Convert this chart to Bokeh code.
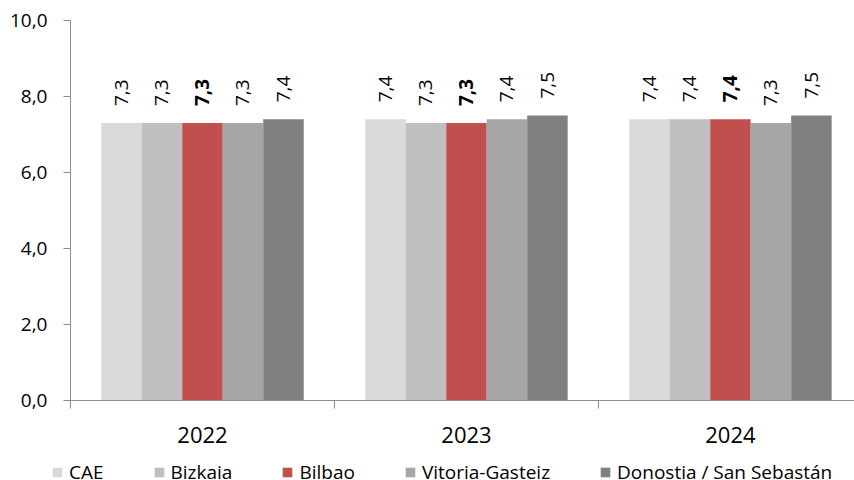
import math
from bokeh.plotting import figure
from bokeh.layouts import column
from bokeh.models import ColumnDataSource, FixedTicker, Legend, LegendItem, Range1d
from bokeh.core.properties import value
from bokeh.embed import file_html
from bokeh.resources import INLINE

# ---- data ----
years = ["2022", "2023", "2024"]
series = ["CAE", "Bizkaia", "Bilbao", "Vitoria-Gasteiz", "Donostia / San Sebastán"]
cae = [7.3, 7.4, 7.4]
bizkaia = [7.3, 7.3, 7.4]
bilbao = [7.3, 7.3, 7.4]
vitoria = [7.3, 7.4, 7.3]
donostia = [7.4, 7.5, 7.5]
values_by_series = [cae, bizkaia, bilbao, vitoria, donostia]
colors = ["#D9D9D9", "#BFBFBF", "#C0504D", "#A6A6A6", "#808080"]
bold_series = ["Bilbao"]
y_ticks = [0, 2, 4, 6, 8, 10]
y_tick_labels = ["0,0", "2,0", "4,0", "6,0", "8,0", "10,0"]

FONT = "Open Sans"
BW = 0.1534  # bar width in category units

p = figure(frame_width=784, frame_height=380, output_backend="svg", toolbar_location=None,
           x_range=Range1d(0, 2.97), y_range=Range1d(0, 10),
           min_border_left=70, min_border_right=0, min_border_top=20, min_border_bottom=52)
p.outline_line_color = None
p.xgrid.visible = False
p.ygrid.visible = False
p.background_fill_color = "white"

sources = []
for k, (name, vals, col) in enumerate(zip(series, values_by_series, colors)):
    xs = [i + 0.5 + (k - 2) * BW for i in range(len(years))]
    src = ColumnDataSource(dict(x=xs, top=vals,
                                lab=[("%.1f" % v).replace(".", ",") for v in vals]))
    sources.append(src)
    p.vbar(x="x", top="top", width=BW, bottom=0, source=src,
           fill_color=col, line_color=None)
    p.text(x="x", y="top", text="lab", source=src, angle=math.pi / 2,
           text_align="left", text_baseline="middle", y_offset=-17,
           text_font=value(FONT), text_font_size="19px", text_color="black",
           text_font_style="bold" if name in bold_series else "normal")

AX = "#8C8C8C"
# y axis
p.yaxis.ticker = FixedTicker(ticks=y_ticks)
p.yaxis.major_label_overrides = {t: l for t, l in zip(y_ticks, y_tick_labels)}
p.yaxis.major_tick_out = 7
p.yaxis.major_tick_in = 0
p.yaxis.minor_tick_line_color = None
p.yaxis.axis_line_color = AX
p.yaxis.major_tick_line_color = AX
p.yaxis.major_label_text_font = FONT
p.yaxis.major_label_text_font_size = "19px"
p.yaxis.major_label_text_color = "black"
p.yaxis.major_label_standoff = 16

# x axis
centers = [i + 0.5 for i in range(len(years))]
bounds = [float(i) for i in range(len(years) + 1)]
p.xaxis.ticker = FixedTicker(ticks=centers, minor_ticks=bounds)
p.xaxis.major_label_overrides = {c: y for c, y in zip(centers, years)}
p.xaxis.major_tick_line_color = None
p.xaxis.major_tick_out = 0
p.xaxis.major_tick_in = 0
p.xaxis.minor_tick_out = 8
p.xaxis.minor_tick_in = 0
p.xaxis.minor_tick_line_color = AX
p.xaxis.axis_line_color = AX
p.xaxis.major_label_text_font = FONT
p.xaxis.major_label_text_font_size = "22px"
p.xaxis.major_label_text_color = "black"
p.xaxis.major_label_standoff = 18

# ---- legend strip (separate figure below the chart) ----
# same series sources, drawn outside this strip's visible ranges: only the legend keys show
pl = figure(frame_width=854, frame_height=28, output_backend="svg", toolbar_location=None,
            min_border_left=0, min_border_right=0, min_border_top=0, min_border_bottom=0,
            x_axis_location=None, y_axis_location=None,
            x_range=Range1d(0, 1), y_range=Range1d(20, 21))
pl.outline_line_color = None
pl.xgrid.visible = False
pl.ygrid.visible = False
pl.background_fill_color = "white"
items = []
for name, col, src in zip(series, colors, sources):
    r = pl.vbar(x="x", top="top", width=BW, bottom=0, source=src,
                fill_color=col, line_color=None)
    items.append(LegendItem(label=name, renderers=[r]))
legend = Legend(items=items, orientation="horizontal", location=(51, -5),
                glyph_width=12, glyph_height=12, label_standoff=6, spacing=49,
                padding=0, margin=0, border_line_color=None,
                background_fill_alpha=0, label_height=16,
                label_text_font=FONT, label_text_font_size="19px",
                label_text_color="black")
pl.add_layout(legend, "center")

layout = column(p, pl, spacing=0)
open("out.html", "w").write(file_html(layout, INLINE))
